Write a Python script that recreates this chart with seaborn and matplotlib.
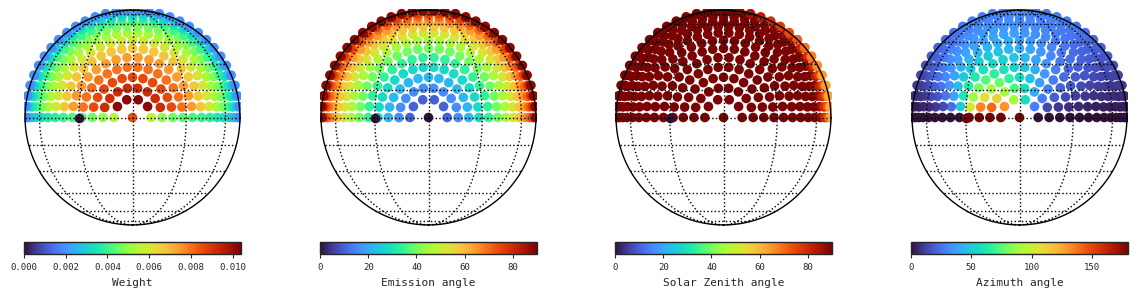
import numpy as np
import pandas as pd
import matplotlib
matplotlib.use("Agg")
import matplotlib.pyplot as plt
import seaborn as sns

# disk sampling: rings of constant emission angle around the sub-observer point
ring_emission = [10, 16, 22, 28, 34, 40, 46, 52, 58, 64, 70, 76, 82, 88]
ring_intervals = [5, 9, 12, 15, 17, 20, 22, 25, 27, 28, 30, 30, 31, 31]
# weight (interior points / points on the equator)
ring_weight = [0.0102, 0.0092, 0.0086, 0.0080, 0.0074, 0.0067, 0.0060,
               0.0053, 0.0047, 0.0041, 0.0035, 0.0029, 0.0024, 0.0019]
ring_weight_edge = [0.0055, 0.0049, 0.0046, 0.0044, 0.0042, 0.0040, 0.0038,
                    0.0036, 0.0034, 0.0031, 0.0028, 0.0025, 0.0021, 0.0018]
center_weight = 0.0085

# geometry
sun_lon = -30         # sub-solar longitude (azimuth reference)
sza_ref_lon = 150     # reference direction used for the zenith-angle map
sun_values = [0.0, 0.0, 0.0, 180.0]   # marker at the sub-solar point

labels = ["Weight", "Emission angle", "Solar Zenith angle", "Azimuth angle"]
vmax = [0.0104, 90, 90, 180]
ticks = [[0, 0.002, 0.004, 0.006, 0.008, 0.010],
         [0, 20, 40, 60, 80],
         [0, 20, 40, 60, 80],
         [0, 50, 100, 150]]


def build_points():
    rows = [(0.0, 0.0, center_weight, 0.0)]
    for e, n, w, we in zip(ring_emission, ring_intervals, ring_weight, ring_weight_edge):
        phi = np.linspace(0, 180, n + 1)
        for k, p in enumerate(phi):
            x = np.sin(np.radians(e)) * np.cos(np.radians(p))
            y = np.sin(np.radians(e)) * np.sin(np.radians(p))
            ww = we if k in (0, n) else w
            rows.append((x, y, ww, e))
    df = pd.DataFrame(rows, columns=["x", "y", "Weight", "Emission angle"])
    z = np.sqrt(np.clip(1 - df.x ** 2 - df.y ** 2, 0, 1))
    nvec = np.stack([df.x, df.y, z], axis=1)

    ref = np.array([np.sin(np.radians(sza_ref_lon)), 0, np.cos(np.radians(sza_ref_lon))])
    df["Solar Zenith angle"] = np.degrees(np.arccos(np.clip(nvec @ ref, -1, 1)))

    sun = np.array([np.sin(np.radians(sun_lon)), 0, np.cos(np.radians(sun_lon))])
    view = np.array([0, 0, 1.0])
    vt = view - (nvec @ view)[:, None] * nvec
    st = sun - (nvec @ sun)[:, None] * nvec
    nv = np.linalg.norm(vt, axis=1)
    ns = np.linalg.norm(st, axis=1)
    with np.errstate(invalid="ignore", divide="ignore"):
        c = np.sum(vt * st, axis=1) / (nv * ns)
    az = np.degrees(np.arccos(np.clip(c, -1, 1)))
    df["Azimuth angle"] = np.where(nv < 1e-9, 180.0, az)
    return df


df = build_points()
sun_df = pd.DataFrame({"x": [np.sin(np.radians(sun_lon))], "y": [0.0]})
for lab, v in zip(labels, sun_values):
    sun_df[lab] = [v]

sns.set_style("white")
plt.rcParams["font.family"] = ["DejaVu Sans Mono"]

fig = plt.figure(figsize=(11.38, 2.97), dpi=100)
W, H = 1138, 297
lefts = [24, 320, 615, 911]
size = 217

for i, lab in enumerate(labels):
    ax = fig.add_axes([lefts[i] / W, 1 - 226 / H, size / W, size / H])
    sns.scatterplot(data=df, x="x", y="y", hue=lab, palette="turbo",
                    hue_norm=(0, vmax[i]), s=48, linewidth=0, legend=False,
                    ax=ax, zorder=2)
    sns.scatterplot(data=sun_df, x="x", y="y", hue=lab, palette="turbo",
                    hue_norm=(0, vmax[i]), s=48, linewidth=0, legend=False,
                    ax=ax, zorder=3)

    # graticule
    lat = np.radians(np.linspace(-90, 90, 181))
    for lon in range(-60, 61, 30):
        ax.plot(np.cos(lat) * np.sin(np.radians(lon)), np.sin(lat),
                color="black", ls=":", lw=1.0, zorder=4)
    lon_arr = np.radians(np.linspace(-90, 90, 181))
    for la in range(-75, 76, 15):
        ax.plot(np.cos(np.radians(la)) * np.sin(lon_arr),
                np.full_like(lon_arr, np.sin(np.radians(la))),
                color="black", ls=":", lw=1.0, zorder=4)
    t = np.linspace(0, 2 * np.pi, 400)
    ax.plot(np.cos(t), np.sin(t), color="black", lw=1.0, zorder=5)

    ax.set_xlim(-1.01, 1.01)
    ax.set_ylim(-1.01, 1.01)
    ax.set_aspect("equal")
    ax.axis("off")

    cax = fig.add_axes([lefts[i] / W, 1 - 254 / H, size / W, 12 / H])
    sm = plt.cm.ScalarMappable(norm=plt.Normalize(0, vmax[i]), cmap="turbo")
    cb = fig.colorbar(sm, cax=cax, orientation="horizontal")
    cb.set_ticks(ticks[i])
    if i == 0:
        cb.set_ticklabels([f"{t:.3f}" for t in ticks[i]])
    cb.ax.tick_params(labelsize=6.5, length=3, width=0.8)
    cb.outline.set_linewidth(1.0)
    cb.set_label(lab, fontsize=8)

fig.savefig("out.png", dpi=100)
